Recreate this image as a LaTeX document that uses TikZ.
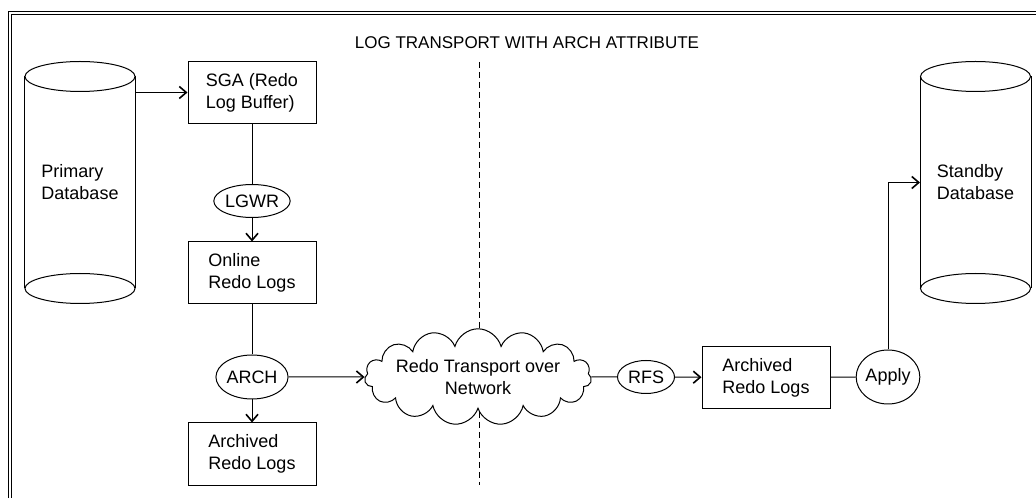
\documentclass[tikz,border=0pt]{standalone}
\usepackage{fontspec}
\setmainfont{Liberation Sans}
\usetikzlibrary{shapes.geometric,shapes.symbols,arrows.meta}

\begin{document}
\begin{tikzpicture}[x=1pt,y=1pt,line width=1pt,
  txt/.style={font=\fontsize{18}{22}\selectfont},
  logbox/.style={txt,draw,rectangle,minimum width=128,minimum height=62,align=left},
  proc/.style={txt,draw,ellipse,inner sep=0pt},
  dbbody/.style={txt,rectangle,minimum width=110,minimum height=211,align=left},
  arr/.style={-{Straight Barb[length=7pt,width=12pt,line width=1.6pt]}}]
\useasboundingbox (0,0) rectangle (1036,498);
\draw[double,double distance=2pt,line width=0.9pt] (10,0) -- (10,485) -- (1036,485);

\node[font=\fontsize{17}{20}\selectfont] (title) at (527,455) {LOG TRANSPORT WITH ARCH ATTRIBUTE};
\draw[dash pattern=on 6pt off 4pt] (479,436) -- (479,13);

\node[dbbody] (primary) at (80,315.5) {Primary\\Database};
\node[dbbody] (standby) at (975.5,315.5) {Standby\\Database};
\foreach \db in {primary,standby}{
    \draw (\db.north west) -- (\db.south west) (\db.north east) -- (\db.south east);
    \draw (\db.north) ellipse [x radius=55,y radius=15];
    \draw (\db.south) ellipse [x radius=55,y radius=15];
}

\node[logbox] (sga) at (252,405.5) {SGA (Redo\\Log Buffer)};
\node[proc,minimum width=72,minimum height=33] (lgwr) at (252,297) {LGWR};
\node[logbox] (online) at (252,225) {Online\\Redo Logs};
\node[proc,minimum width=71,minimum height=44] (arch) at (252,121) {ARCH};
\node[logbox] (archlocal) at (252,44) {Archived\\Redo Logs};
\node[txt,cloud,draw,fill=white,cloud puffs=15,aspect=3,inner xsep=-12pt,inner ysep=0pt,
  minimum width=227,minimum height=75,align=center] (net) at (478,121) {Redo Transport over\\Network};
\node[proc,minimum width=57,minimum height=33] (rfs) at (646,121) {RFS};
\node[logbox] (archremote) at (766,120.5) {Archived\\Redo Logs};
\node[proc,minimum width=63,minimum height=54] (apply) at (888,121) {Apply};

\draw[arr] (primary.east |- sga) -- (sga);
\draw (sga) -- (lgwr);
\draw[arr] (lgwr) -- (online);
\draw (online) -- (arch);
\draw[arr] (arch) -- (archlocal);
\draw[arr] (arch) -- (net);
\draw (net) -- (rfs);
\draw[arr] (rfs) -- (archremote);
\draw (archremote) -- (apply);
\draw[arr] (apply) |- (standby);
\end{tikzpicture}
\end{document}
